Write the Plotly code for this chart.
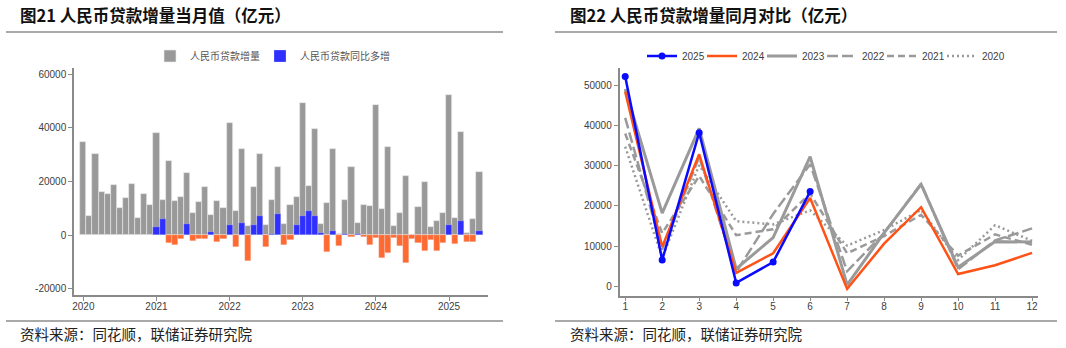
import plotly.graph_objects as go

# ---------------- data (亿元) ----------------
years = [2020, 2021, 2022, 2023, 2024, 2025]
months = list(range(1, 13))

loan_2020 = [34800, 7100, 30200, 16200, 15400, 18900, 10100, 14000, 19000, 6500, 15200, 11300]
loan_2021 = [38100, 13200, 27500, 12700, 14200, 23100, 8200, 12500, 17800, 7600, 12900, 10300]
loan_2022 = [42000, 9100, 32200, 3500, 18000, 30400, 3700, 13200, 25600, 4200, 11400, 14400]
loan_2023 = [49200, 18200, 39400, 4300, 12100, 32300, 300, 13300, 25400, 4700, 11100, 11000]
loan_2024 = [48500, 9800, 32900, 3300, 8200, 22000, -700, 10600, 19700, 3000, 5200, 8300]
loan_2025 = [52300, 6500, 38300, 800, 6000, 23600]

# 同比多增 (read from the blue / orange bars), 2021-01 onwards
yoy_2021 = [3230, 6090, -2980, -3480, -1240, 4100, -2000, -1500, -1500, 1100, -2500, -1240]
yoy_2022 = [3720, -4470, 4720, -9440, 3850, 7330, -4470, 600, 7950, -3480, -1740, 3850]
yoy_2023 = [7330, 8940, 7080, 745, -6210, 1740, -3850, 300, -500, 370, -600, -3480]
yoy_2024 = [-870, -8440, -6700, -1000, -3970, -10430, -1240, -2980, -5710, -1740, -5960, -2730]
yoy_2025 = [3730, -3230, 5220, -2480, -2480, 1490]

year_ticks = ["2020", "2021", "2022", "2023", "2024", "2025"]
bar_yticks = [-20000, 0, 20000, 40000, 60000]
line_yticks = [0, 10000, 20000, 30000, 40000, 50000]

# ---------------- geometry helpers ----------------
W, H = 1066, 348
def fx(p):
    return p / W
def fy(p):
    return 1 - p / H

GRAY = "#999999"
BLUE_BAR = "#2f2fff"
ORANGE_BAR = "#ff6a33"
BLUE_LINE = "#0a0aff"
ORANGE_LINE = "#ff5216"
LINE_GRAY = "#9a9a9a"
AXIS = "#8a8a8a"
TICKFONT = dict(family="Liberation Sans, Arial, sans-serif", size=10, color="#404040")
CJK = "Noto Sans CJK SC"

fig = go.Figure()

# ---------------- left chart: monthly bars ----------------
loans_all = loan_2020 + loan_2021 + loan_2022 + loan_2023 + loan_2024 + loan_2025
yoy_all = yoy_2021 + yoy_2022 + yoy_2023 + yoy_2024 + yoy_2025
idx_all = list(range(len(loans_all)))
idx_yoy = list(range(12, 12 + len(yoy_all)))

fig.add_trace(go.Bar(
    x=idx_all, y=loans_all, name="人民币贷款增量", width=1.0,
    marker=dict(color=GRAY, line=dict(color="rgba(235,235,235,0.9)", width=0.7)),
    xaxis="x", yaxis="y", legend="legend",
))
fig.add_trace(go.Bar(
    x=idx_yoy, y=[v if v > 0 else None for v in yoy_all], name="人民币贷款同比多增", width=1.0,
    marker=dict(color=BLUE_BAR, line=dict(color="rgba(235,235,235,0.6)", width=0.5)),
    xaxis="x", yaxis="y", legend="legend",
))
fig.add_trace(go.Bar(
    x=idx_yoy, y=[v if v < 0 else None for v in yoy_all], name="同比少增", width=1.0,
    marker=dict(color=ORANGE_BAR, line=dict(color="rgba(235,235,235,0.6)", width=0.5)),
    xaxis="x", yaxis="y", showlegend=False,
))
# invisible spacer entry so the last legend label is not clipped
fig.add_trace(go.Bar(
    x=[None], y=[None], name=" ", marker=dict(color="rgba(0,0,0,0)", line=dict(width=0)),
    xaxis="x", yaxis="y", legend="legend", hoverinfo="skip",
))

# ---------------- right chart: same-month comparison ----------------
line_specs = [
    (2020, loan_2020, LINE_GRAY, "2px,3px", 2.5),
    (2021, loan_2021, LINE_GRAY, "7px,4px", 2.5),
    (2022, loan_2022, LINE_GRAY, "11px,4px", 2.5),
    (2023, loan_2023, LINE_GRAY, "solid", 3),
    (2024, loan_2024, ORANGE_LINE, "solid", 2.5),
]
for yr, vals, col, dash, wd in line_specs:
    fig.add_trace(go.Scatter(
        x=months[:len(vals)], y=vals, name=str(yr), mode="lines",
        line=dict(color=col, dash=dash, width=wd),
        xaxis="x2", yaxis="y2", legend="legend2", legendrank=2100 - yr,
    ))
fig.add_trace(go.Scatter(
    x=months[:len(loan_2025)], y=loan_2025, name="2025", mode="lines+markers",
    line=dict(color=BLUE_LINE, width=2.5), marker=dict(size=7, color=BLUE_LINE),
    xaxis="x2", yaxis="y2", legend="legend2", legendrank=2100 - 2025,
))
fig.add_trace(go.Scatter(
    x=[None], y=[None], name=" ", mode="lines", line=dict(width=0, color="rgba(0,0,0,0)"),
    xaxis="x2", yaxis="y2", legend="legend2", legendrank=2000, hoverinfo="skip",
))

axis_common = dict(showline=True, linecolor=AXIS, linewidth=1.5, ticks="outside",
                   tickcolor=AXIS, ticklen=4, tickwidth=1, showgrid=False,
                   zeroline=False, tickfont=TICKFONT, automargin=False)

fig.update_layout(
    width=W, height=H, margin=dict(l=0, r=0, t=0, b=0, autoexpand=False),
    paper_bgcolor="white", plot_bgcolor="white",
    barmode="overlay", bargap=0,
    xaxis=dict(domain=[fx(74), fx(488)], range=[-1.53, 66.4],
               tickvals=[0, 12, 24, 36, 48, 60], ticktext=year_ticks, anchor="y",
               ticklabelstandoff=-3, **axis_common),
    yaxis=dict(domain=[fy(295), fy(68)], range=[-22250, 62300],
               tickvals=bar_yticks, ticktext=[str(v) for v in bar_yticks], anchor="x",
               **axis_common),
    xaxis2=dict(domain=[fx(619.5), fx(1038)], range=[0.846, 12.16],
                tickvals=months, anchor="y2", ticklabelstandoff=-3, **axis_common),
    yaxis2=dict(domain=[fy(295.5), fy(68)], range=[-2350, 54450],
                tickvals=line_yticks, ticktext=[str(v) for v in line_yticks], anchor="x2",
                **axis_common),
    legend=dict(orientation="h", x=fx(150), y=fy(56), xanchor="left", yanchor="middle",
                font=dict(family=CJK, size=10, color="#555555"),
                bgcolor="rgba(0,0,0,0)", entrywidth=65, entrywidthmode="pixels",
                traceorder="normal"),
    legend2=dict(orientation="h", x=fx(642), y=fy(56), xanchor="left", yanchor="middle",
                 font=dict(family="Liberation Sans, Arial, sans-serif", size=10, color="#404040"),
                 bgcolor="rgba(0,0,0,0)", entrywidth=15, entrywidthmode="pixels",
                 traceorder="normal"),
    showlegend=True,
)

# frame lines
line_style = dict(color="#8c8c8c", width=1.5)
for x0, x1 in [(6, 503), (555, 1057)]:
    fig.add_shape(type="line", xref="paper", yref="paper", x0=fx(x0), x1=fx(x1),
                  y0=fy(32), y1=fy(32), line=line_style)
    fig.add_shape(type="line", xref="paper", yref="paper", x0=fx(x0), x1=fx(x1),
                  y0=fy(321), y1=fy(321), line=line_style)

# titles and sources
for xpos, title in [(18, "图21 人民币贷款增量当月值（亿元）"), (568, "图22 人民币贷款增量同月对比（亿元）")]:
    fig.add_annotation(text="<b>" + title + "</b>", xref="paper", yref="paper",
                       x=fx(xpos), y=fy(15), xanchor="left", yanchor="middle",
                       showarrow=False, font=dict(family=CJK, size=16.5, color="#111111"))
    fig.add_annotation(text="资料来源：同花顺，联储证券研究院", xref="paper", yref="paper",
                       x=fx(xpos), y=fy(333), xanchor="left", yanchor="middle",
                       showarrow=False, font=dict(family=CJK, size=14.5, color="#222222"))

fig.write_html("out.html")
